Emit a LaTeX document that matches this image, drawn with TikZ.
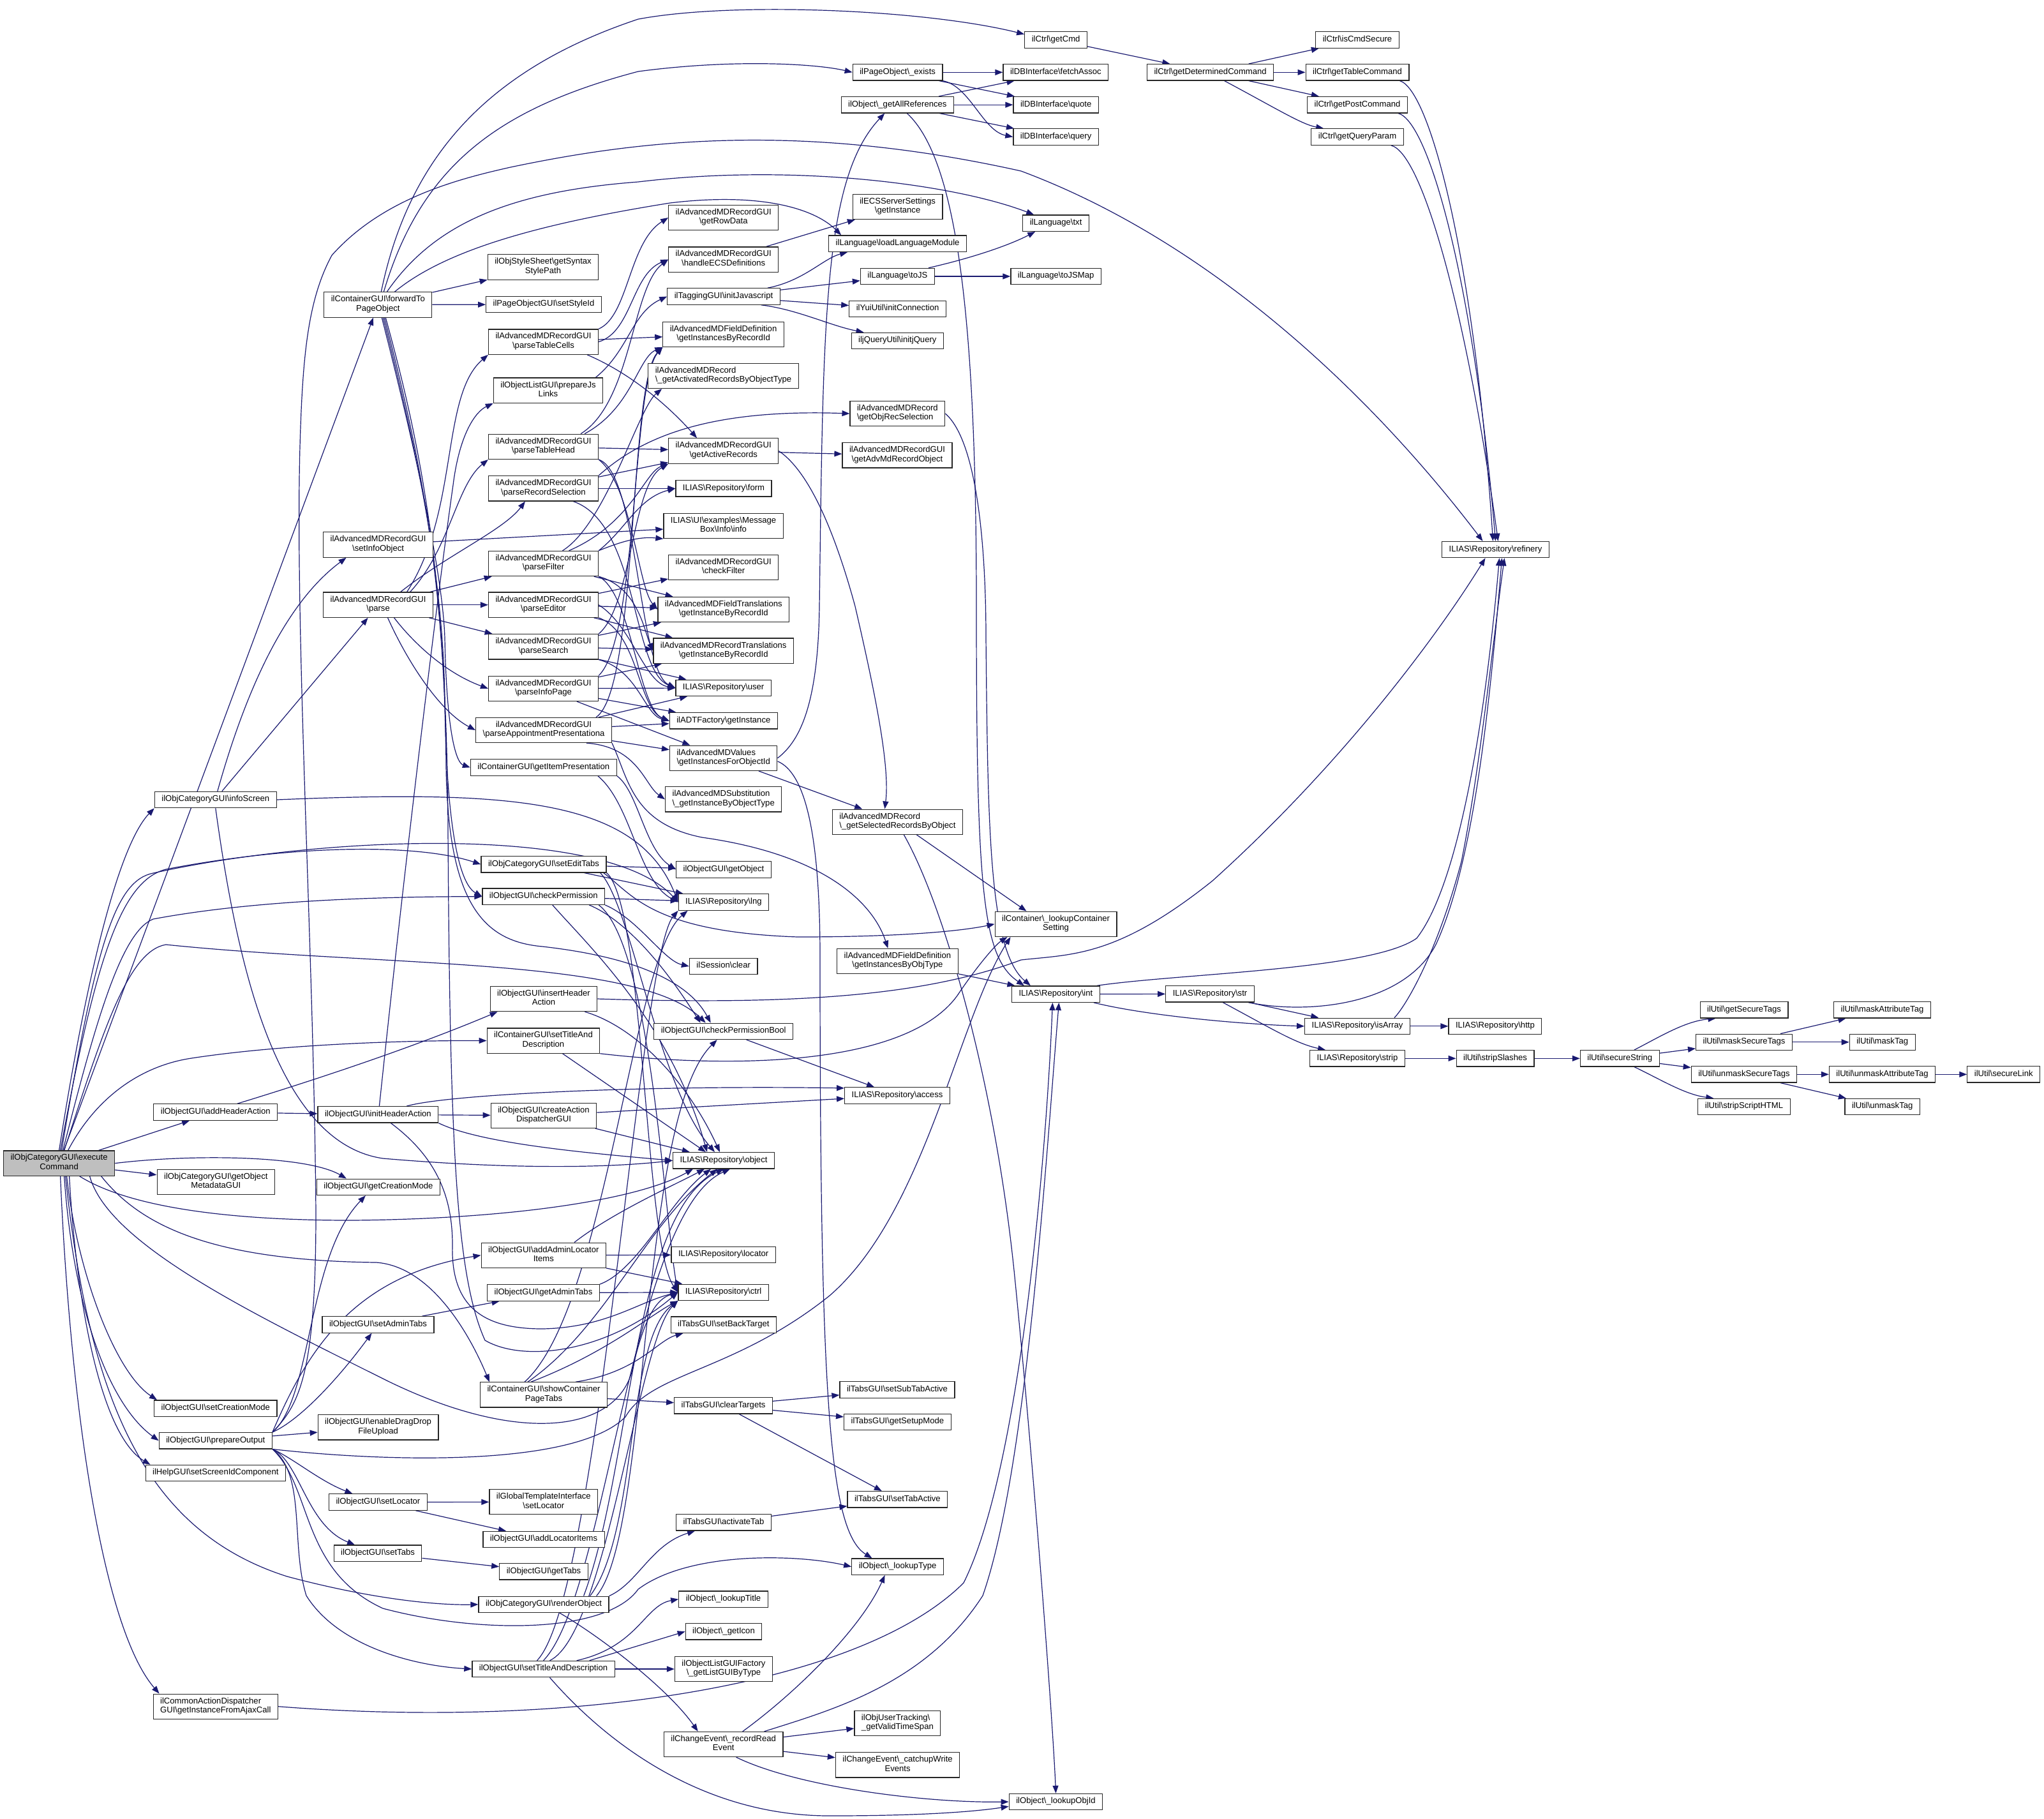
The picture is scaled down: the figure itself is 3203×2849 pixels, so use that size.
\documentclass[tikz,border=0pt]{standalone}
\usepackage{fontspec}
\setmainfont{Liberation Sans}
\usetikzlibrary{arrows.meta,calc}
\pgfdeclarelayer{bg}
\pgfsetlayers{bg,main}
\definecolor{edgec}{HTML}{191970}
\definecolor{exfill}{HTML}{BFBFBF}
\newcommand\BS{\textbackslash}
\tikzset{
 box/.style={draw=black!85, line width=1.2pt, fill=white, font=\fontsize{13.1}{14.5}\selectfont, inner xsep=11pt, inner ysep=5.45pt, align=center, execute at begin node=\strut, execute at end node=\strut},
 lbox/.style={box, align=left},
 e/.style={draw=edgec, line width=1.2pt, -{Triangle[length=12pt,width=9pt]}},
}
\begin{document}
\begin{tikzpicture}[x=1pt,y=1pt]
\useasboundingbox (0,0) rectangle (3203,-2849);
% column A/B
\node[box, fill=exfill] (ex) at (92.6,-1822.6) {ilObjCategoryGUI\BS{}execute\\Command};
\node[box] (iS) at (337.8,-1253) {ilObjCategoryGUI\BS{}infoScreen};
\node[box] (aHA) at (337.8,-1742.5) {ilObjectGUI\BS{}addHeaderAction};
\node[box] (gOM) at (338.3,-1851.7) {ilObjCategoryGUI\BS{}getObject\\MetadataGUI};
\node[box] (sCM) at (337.8,-2206.6) {ilObjectGUI\BS{}setCreationMode};
\node[box] (po) at (337.8,-2257.2) {ilObjectGUI\BS{}prepareOutput};
\node[box] (sSI) at (337.8,-2308) {ilHelpGUI\BS{}setScreenIdComponent};
\node[lbox] (gIA) at (337.8,-2673.7) {ilCommonActionDispatcher\\GUI\BS{}getInstanceFromAjaxCall};
% column C
\node[box] (fw) at (592.3,-477.5) {ilContainerGUI\BS{}forwardTo\\PageObject};
\node[box] (sIO) at (592.6,-853.5) {ilAdvancedMDRecordGUI\\\BS{}setInfoObject};
\node[box] (pa) at (592.6,-947.7) {ilAdvancedMDRecordGUI\\\BS{}parse};
\node[box] (iHA) at (592.4,-1746.3) {ilObjectGUI\BS{}initHeaderAction};
\node[box] (gCM) at (592.9,-1859.8) {ilObjectGUI\BS{}getCreationMode};
\node[box] (sAT) at (592.5,-2075.4) {ilObjectGUI\BS{}setAdminTabs};
\node[box] (eDD) at (592.6,-2236.3) {ilObjectGUI\BS{}enableDragDrop\\FileUpload};
\node[box] (sL) at (592.4,-2353.5) {ilObjectGUI\BS{}setLocator};
\node[box] (sT) at (592,-2433.7) {ilObjectGUI\BS{}setTabs};
% column D
\node[box] (gSS) at (851,-418.5) {ilObjStyleSheet\BS{}getSyntax\\StylePath};
\node[box] (sSt) at (852,-477) {ilPageObjectGUI\BS{}setStyleId};
\node[box] (pTC) at (851.5,-535.6) {ilAdvancedMDRecordGUI\\\BS{}parseTableCells};
\node[box] (pJL) at (859,-611.7) {ilObjectListGUI\BS{}prepareJs\\Links};
\node[box] (pTH) at (851.5,-699.8) {ilAdvancedMDRecordGUI\\\BS{}parseTableHead};
\node[box] (pRS) at (851.5,-765.3) {ilAdvancedMDRecordGUI\\\BS{}parseRecordSelection};
\node[box] (pF) at (851.5,-883) {ilAdvancedMDRecordGUI\\\BS{}parseFilter};
\node[box] (pE) at (851.5,-947.7) {ilAdvancedMDRecordGUI\\\BS{}parseEditor};
\node[box] (pS) at (851.5,-1013.3) {ilAdvancedMDRecordGUI\\\BS{}parseSearch};
\node[box] (pIP) at (851.5,-1078.8) {ilAdvancedMDRecordGUI\\\BS{}parseInfoPage};
\node[box] (pAP) at (852,-1144) {ilAdvancedMDRecordGUI\\\BS{}parseAppointmentPresentationa};
\node[box] (gIP) at (851.8,-1202.4) {ilContainerGUI\BS{}getItemPresentation};
\node[box] (sET) at (852,-1354.2) {ilObjCategoryGUI\BS{}setEditTabs};
\node[box] (cP) at (851.8,-1404.6) {ilObjectGUI\BS{}checkPermission};
\node[box] (iHAct) at (852,-1565) {ilObjectGUI\BS{}insertHeader\\Action};
\node[box] (ctST) at (851.5,-1630.5) {ilContainerGUI\BS{}setTitleAnd\\Description};
\node[box] (cAD) at (852,-1747.8) {ilObjectGUI\BS{}createAction\\DispatcherGUI};
\node[box] (aALI) at (851.8,-1966.7) {ilObjectGUI\BS{}addAdminLocator\\Items};
\node[box] (gAT) at (851.5,-2025.4) {ilObjectGUI\BS{}getAdminTabs};
\node[box] (sCPT) at (852,-2185.4) {ilContainerGUI\BS{}showContainer\\PageTabs};
\node[box] (gTL) at (851.8,-2353.2) {ilGlobalTemplateInterface\\\BS{}setLocator};
\node[box] (aLI) at (852,-2412) {ilObjectGUI\BS{}addLocatorItems};
\node[box] (gT) at (852,-2462.3) {ilObjectGUI\BS{}getTabs};
\node[box] (rO) at (852,-2513.8) {ilObjCategoryGUI\BS{}renderObject};
\node[box] (oST) at (851.5,-2615) {ilObjectGUI\BS{}setTitleAndDescription};
% column E
\node[box] (gRD) at (1133.7,-341) {ilAdvancedMDRecordGUI\\\BS{}getRowData};
\node[box] (hECS) at (1133.7,-406.6) {ilAdvancedMDRecordGUI\\\BS{}handleECSDefinitions};
\node[box] (iJS) at (1134,-464.5) {ilTaggingGUI\BS{}initJavascript};
\node[box] (fdGIR) at (1133.6,-523.8) {ilAdvancedMDFieldDefinition\\\BS{}getInstancesByRecordId};
\node[lbox] (gARBOT) at (1133.5,-589) {ilAdvancedMDRecord\\\BS\_getActivatedRecordsByObjectType};
\node[box] (gAR) at (1133.7,-706.5) {ilAdvancedMDRecordGUI\\\BS{}getActiveRecords};
\node[box] (form) at (1134,-765.3) {ILIAS\BS{}Repository\BS{}form};
\node[box] (info) at (1133.6,-824) {ILIAS\BS{}UI\BS{}examples\BS{}Message\\Box\BS{}Info\BS{}info};
\node[box] (cF) at (1133.7,-889) {ilAdvancedMDRecordGUI\\\BS{}checkFilter};
\node[box] (fT) at (1133.8,-955) {ilAdvancedMDFieldTranslations\\\BS{}getInstanceByRecordId};
\node[box] (rT) at (1133.7,-1019.7) {ilAdvancedMDRecordTranslations\\\BS{}getInstanceByRecordId};
\node[box] (user) at (1133.6,-1077.8) {ILIAS\BS{}Repository\BS{}user};
\node[box] (adt) at (1133.8,-1129.3) {ilADTFactory\BS{}getInstance};
\node[lbox] (mdv) at (1133.7,-1187.8) {ilAdvancedMDValues\\\BS{}getInstancesForObjectId};
\node[lbox] (sub) at (1133.7,-1252.4) {ilAdvancedMDSubstitution\\\BS\_getInstanceByObjectType};
\node[box] (gO) at (1134,-1362.4) {ilObjectGUI\BS{}getObject};
\node[box] (lng) at (1133.9,-1413.5) {ILIAS\BS{}Repository\BS{}lng};
\node[box] (sc) at (1133.7,-1514) {ilSession\BS{}clear};
\node[box] (cPB) at (1133.7,-1615.8) {ilObjectGUI\BS{}checkPermissionBool};
\node[box] (obj) at (1134,-1818.3) {ILIAS\BS{}Repository\BS{}object};
\node[box] (loc) at (1133.7,-1966) {ILIAS\BS{}Repository\BS{}locator};
\node[box] (ctrl) at (1133.6,-2024.8) {ILIAS\BS{}Repository\BS{}ctrl};
\node[box] (sBT) at (1133.8,-2075.7) {ilTabsGUI\BS{}setBackTarget};
\node[box] (cT) at (1133.6,-2202.3) {ilTabsGUI\BS{}clearTargets};
\node[box] (aT) at (1134,-2385.3) {ilTabsGUI\BS{}activateTab};
\node[box] (lTi) at (1133.5,-2505.6) {ilObject\BS\_lookupTitle};
\node[box] (gI) at (1134,-2556.2) {ilObject\BS\_getIcon};
\node[box] (lgf) at (1134,-2615) {ilObjectListGUIFactory\\\BS\_getListGUIByType};
\node[box] (rre) at (1133.7,-2733) {ilChangeEvent\BS\_recordRead\\Event};
% column F
\node[box] (pex) at (1406.6,-113.3) {ilPageObject\BS\_exists};
\node[box] (gAll) at (1406.3,-164.2) {ilObject\BS\_getAllReferences};
\node[box] (ecs) at (1406.6,-324) {ilECSServerSettings\\\BS{}getInstance};
\node[box] (llm) at (1406.6,-381.7) {ilLanguage\BS{}loadLanguageModule};
\node[box] (toJS) at (1406.4,-433) {ilLanguage\BS{}toJS};
\node[box] (yui) at (1406.6,-484) {ilYuiUtil\BS{}initConnection};
\node[box] (jq) at (1406.3,-534) {iljQueryUtil\BS{}initjQuery};
\node[lbox] (gORS) at (1406.4,-648) {ilAdvancedMDRecord\\\BS{}getObjRecSelection};
\node[box] (gAMRO) at (1406,-713.4) {ilAdvancedMDRecordGUI\\\BS{}getAdvMdRecordObject};
\node[lbox] (gSRBO) at (1406.4,-1287.7) {ilAdvancedMDRecord\\\BS\_getSelectedRecordsByObject};
\node[box] (gIBOT) at (1406.4,-1506) {ilAdvancedMDFieldDefinition\\\BS{}getInstancesByObjType};
\node[box] (acc) at (1406,-1716.5) {ILIAS\BS{}Repository\BS{}access};
\node[box] (sSTA) at (1406,-2177.5) {ilTabsGUI\BS{}setSubTabActive};
\node[box] (gSM) at (1406.4,-2227.8) {ilTabsGUI\BS{}getSetupMode};
\node[box] (sTA) at (1406.4,-2349.3) {ilTabsGUI\BS{}setTabActive};
\node[box] (lTy) at (1406.6,-2454.7) {ilObject\BS\_lookupType};
\node[lbox] (out) at (1406.4,-2699.8) {ilObjUserTracking\BS\\\_getValidTimeSpan};
\node[box] (cwe) at (1406.6,-2765.3) {ilChangeEvent\BS\_catchupWrite\\Events};
% column G
\node[box] (gCmd) at (1654.6,-62.4) {ilCtrl\BS{}getCmd};
\node[box] (fa) at (1654.4,-113.3) {ilDBInterface\BS{}fetchAssoc};
\node[box] (qu) at (1654.7,-164.2) {ilDBInterface\BS{}quote};
\node[box] (qy) at (1654.6,-214.5) {ilDBInterface\BS{}query};
\node[box] (txt) at (1654.6,-349.7) {ilLanguage\BS{}txt};
\node[box] (tjm) at (1654.6,-433) {ilLanguage\BS{}toJSMap};
\node[box] (lcs) at (1654.6,-1447.8) {ilContainer\BS\_lookupContainer\\Setting};
\node[box] (int) at (1654.4,-1557.6) {ILIAS\BS{}Repository\BS{}int};
\node[box] (loi) at (1654.5,-2823) {ilObject\BS\_lookupObjId};
% columns H..N
\node[box] (gDC) at (1896.6,-113.3) {ilCtrl\BS{}getDeterminedCommand};
\node[box] (str) at (1896,-1557.2) {ILIAS\BS{}Repository\BS{}str};
\node[box] (ics) at (2127,-62.4) {ilCtrl\BS{}isCmdSecure};
\node[box] (gTC) at (2127,-113.3) {ilCtrl\BS{}getTableCommand};
\node[box] (gPC) at (2127,-164.2) {ilCtrl\BS{}getPostCommand};
\node[box] (gQP) at (2127,-214.5) {ilCtrl\BS{}getQueryParam};
\node[box] (isA) at (2127,-1607.8) {ILIAS\BS{}Repository\BS{}isArray};
\node[box] (strip) at (2127,-1658.3) {ILIAS\BS{}Repository\BS{}strip};
\node[box] (ref) at (2343.5,-861.1) {ILIAS\BS{}Repository\BS{}refinery};
\node[box] (http) at (2342.9,-1607.8) {ILIAS\BS{}Repository\BS{}http};
\node[box] (sSl) at (2343,-1658.3) {ilUtil\BS{}stripSlashes};
\node[box] (sStr) at (2538.3,-1658.3) {ilUtil\BS{}secureString};
\node[box] (gST) at (2733,-1582.3) {ilUtil\BS{}getSecureTags};
\node[box] (mST) at (2733,-1632.8) {ilUtil\BS{}maskSecureTags};
\node[box] (uST) at (2733,-1683.3) {ilUtil\BS{}unmaskSecureTags};
\node[box] (sSH) at (2733,-1734) {ilUtil\BS{}stripScriptHTML};
\node[box] (mAT) at (2949.5,-1582.3) {ilUtil\BS{}maskAttributeTag};
\node[box] (mT) at (2949.7,-1632.8) {ilUtil\BS{}maskTag};
\node[box] (uAT) at (2949.5,-1683.3) {ilUtil\BS{}unmaskAttributeTag};
\node[box] (uT) at (2949.7,-1734) {ilUtil\BS{}unmaskTag};
\node[box] (sLk) at (3139.7,-1683.3) {ilUtil\BS{}secureLink};

\begin{pgfonlayer}{bg}
% executeCommand
\draw[e] (ex) -- (fw);
\draw[e] (ex.north) .. controls (140,-1500) and (190,-1320) .. (iS.south west);
\draw[e] ($(ex.north)+(2,0)$) .. controls (150,-1500) and (190,-1380) .. (260,-1362) .. controls (450,-1325) and (650,-1320) .. (sET.west);
\draw[e] ($(ex.north)+(4,0)$) .. controls (150,-1480) and (180,-1380) .. (240,-1368) .. controls (500,-1310) and (950,-1290) .. (lng.west);
\draw[e] ($(ex.north)+(6,0)$) .. controls (150,-1600) and (190,-1460) .. (240,-1440) .. controls (400,-1410) and (600,-1405) .. (cP.west);
\draw[e] ($(ex.north)+(8,0)$) .. controls (160,-1620) and (200,-1490) .. (260,-1480) .. controls (600,-1515) and (1000,-1500) .. ($(cPB.north)+(-28,0)$);
\draw[e] ($(ex.north)+(14,0)$) .. controls (150,-1720) and (220,-1670) .. (300,-1658) .. controls (450,-1635) and (650,-1630) .. (ctST.west);
\draw[e] (ex) -- (aHA);
\draw[e] (ex) -- (gOM);
\draw[e] (ex.east) .. controls (300,-1808) and (480,-1810) .. ($(gCM.north)+(-50,0)$);
\draw[e] ($(ex.south)+(32,0)$) .. controls (200,-1890) and (350,-1912) .. (550,-1912) .. controls (800,-1910) and (1000,-1880) .. ($(obj.south)+(-48,0)$);
\draw[e] ($(ex.south)+(48,0)$) .. controls (170,-1950) and (400,-2060) .. (600,-2160) .. controls (800,-2260) and (960,-2250) .. (990,-2150) .. controls (1010,-2060) and (1030,-2035) .. (ctrl.west);
\draw[e] ($(ex.south)+(66,0)$) .. controls (220,-1920) and (330,-1975) .. (590,-1978) .. controls (680,-1985) and (740,-2100) .. ($(sCPT.north west)+(15,0)$);
\draw[e] ($(ex.south)+(12,0)$) .. controls (120,-1990) and (180,-2150) .. ($(sCM.north west)+(5,0)$);
\draw[e] ($(ex.south)+(8,0)$) .. controls (115,-2050) and (170,-2200) .. (po.west);
\draw[e] ($(ex.south)+(16,0)$) .. controls (120,-2050) and (160,-2250) .. ($(sSI.north west)+(8,0)$);
\draw[e] ($(ex.south)+(2,0)$) .. controls (110,-2200) and (160,-2550) .. ($(gIA.north west)+(10,0)$);
\draw[e] ($(ex.south)+(10,0)$) .. controls (140,-2200) and (230,-2400) .. (450,-2470) .. controls (600,-2510) and (700,-2515) .. (rO.west);
% forwardTo
\draw[e] ($(fw.north)+(5,0)$) .. controls (640,-250) and (760,-110) .. (1000,-30) .. controls (1150,-2) and (1450,-15) .. (gCmd.170);
\draw[e] ($(fw.north)+(9,0)$) .. controls (660,-260) and (780,-170) .. (1000,-112) .. controls (1150,-92) and (1280,-100) .. (pex.west);
\draw[e] ($(fw.north)+(14,0)$) .. controls (680,-350) and (800,-300) .. (1000,-285) .. controls (1250,-255) and (1500,-290) .. ($(txt.north west)+(18,0)$);
\draw[e] ($(fw.north)+(26,0)$) .. controls (700,-390) and (850,-350) .. (1050,-318) .. controls (1200,-300) and (1280,-330) .. ($(llm.north west)+(20,0)$);
\draw[e] (fw) -- (gSS);
\draw[e] (fw) -- (sSt);
\draw[e] ($(fw.south)+(6,0)$) .. controls (650,-700) and (694,-900) .. (697,-1000) .. controls (700,-1150) and (715,-1195) .. (gIP.west);
\draw[e] ($(fw.south)+(8,0)$) .. controls (652,-700) and (695,-900) .. (697,-1100) .. controls (700,-1300) and (720,-1385) .. (cP.west);
\draw[e] ($(fw.south)+(10,0)$) .. controls (655,-700) and (697,-900) .. (699,-1200) .. controls (702,-1420) and (760,-1475) .. (850,-1483) .. controls (1000,-1500) and (1080,-1540) .. ($(cPB.north)+(-20,0)$);
\draw[e] ($(fw.south)+(12,0)$) .. controls (660,-700) and (700,-900) .. (702,-1300) .. controls (705,-1800) and (715,-2000) .. (760,-2100) .. controls (820,-2135) and (950,-2120) .. (ctrl.west);
% prepareOutput
\draw[e] (po.north east) .. controls (470,-2200) and (495,-2150) .. (495,-1900) .. controls (492,-1500) and (462,-1000) .. (470,-700) .. controls (474,-560) and (482,-470) .. (520,-400) .. controls (600,-310) and (720,-280) .. (800,-262) .. controls (1000,-220) and (1250,-190) .. (1600,-268) .. controls (1900,-380) and (2150,-620) .. ($(ref.north)+(-20,0)$);
\draw[e] (po.north east) .. controls (470,-2225) and (530,-2160) .. ($(sAT.south)+(-10,0)$);
\draw[e] (po) -- (eDD);
\draw[e] (po.south east) .. controls (460,-2285) and (500,-2320) .. ($(sL.north)+(-40,0)$);
\draw[e] (po.south east) .. controls (470,-2290) and (480,-2390) .. ($(sT.north)+(-36,0)$);
\draw[e] (po.south east) .. controls (480,-2310) and (455,-2420) .. (480,-2500) .. controls (530,-2580) and (650,-2610) .. (oST.west);
\draw[e] (po.north east) .. controls (480,-2120) and (550,-2000) .. (aALI.west);
\draw[e] (po.north east) .. controls (490,-2190) and (480,-1970) .. ($(gCM.south)+(-20,0)$);
\draw[e] (po.south east) .. controls (600,-2290) and (900,-2300) .. (980,-2220) .. controls (1020,-2150) and (1150,-2150) .. (1300,-2030) .. controls (1450,-1900) and (1500,-1600) .. ($(lcs.south west)+(25,0)$);
\draw[e] (po.south east) .. controls (490,-2330) and (470,-2460) .. (600,-2520) .. controls (750,-2560) and (950,-2560) .. (1000,-2490) .. controls (1080,-2430) and (1250,-2435) .. (lTy.west);
% infoScreen
\draw[e] ($(iS.north)+(3,0)$) .. controls (380,-1100) and (440,-950) .. ($(sIO.south)+(-50,0)$);
\draw[e] ($(iS.north)+(10,0)$) -- ($(pa.south)+(-16,0)$);
\draw[e] (iS.east) .. controls (800,-1238) and (1000,-1250) .. (lng.west);
\draw[e] (iS.south) .. controls (370,-1500) and (430,-1790) .. (600,-1815) .. controls (800,-1832) and (950,-1830) .. (obj.west);
% setInfoObject, parse
\draw[e] (sIO) -- (info);
\draw[e] ($(pa.north)+(45,0)$) .. controls (720,-800) and (690,-620) .. (pTC.south west);
\draw[e] ($(pa.north)+(50,0)$) .. controls (705,-860) and (715,-760) .. (pTH.south west);
\draw[e] ($(pa.north)+(35,0)$) .. controls (700,-870) and (790,-830) .. ($(pRS.south west)+(58,0)$);
\draw[e] (pa) -- (pF);
\draw[e] (pa) -- (pE);
\draw[e] (pa) -- (pS);
\draw[e] ($(pa.south)+(25,0)$) .. controls (650,-1010) and (700,-1055) .. (pIP.west);
\draw[e] ($(pa.south)+(15,0)$) .. controls (640,-1040) and (690,-1115) .. (pAP.west);
% initHeaderAction etc.
\draw[e] ($(iHA.north)+(2,0)$) .. controls (640,-1300) and (690,-900) .. (710,-760) .. controls (720,-680) and (745,-645) .. (pJL.south west);
\draw[e] (iHA) -- (cAD);
\draw[e] ($(iHA.north east)+(-50,0)$) .. controls (700,-1715) and (1000,-1700) .. (acc.172);
\draw[e] (iHA.south east) .. controls (750,-1790) and (900,-1805) .. (obj.west);
\draw[e] ($(iHA.south)+(20,0)$) .. controls (680,-1810) and (709,-1870) .. (709,-1950) .. controls (706,-2050) and (760,-2082) .. (850,-2082) .. controls (950,-2080) and (1000,-2040) .. (ctrl.west);
\draw[e] (cAD) -- (acc);
\draw[e] (cAD) -- (obj);
\draw[e] (sAT) -- (gAT);
\draw[e] (sL) -- (gTL);
\draw[e] (sL) -- (aLI);
\draw[e] (sT) -- (gT);
\draw[e] ($(aHA.north)+(34,0)$) .. controls (500,-1690) and (650,-1640) .. ($(iHAct.south west)+(12,0)$);
\draw[e] (aHA) -- (iHA);
\draw[e] (gIA.east) .. controls (900,-2710) and (1350,-2640) .. (1510,-2480) .. controls (1600,-2300) and (1640,-1800) .. ($(int.south)+(-5,0)$);
% column D
\draw[e] (pTC.north east) .. controls (985,-495) and (985,-380) .. (gRD.west);
\draw[e] (pTC.east) .. controls (990,-520) and (990,-430) .. (hECS.west);
\draw[e] (pTC) -- (fdGIR);
\draw[e] ($(pTC.south east)+(-18,0)$) .. controls (1000,-590) and (1060,-650) .. ($(gAR.north west)+(45,0)$);
\draw[e] ($(pJL.north east)+(-12,0)$) .. controls (985,-550) and (990,-490) .. (iJS.west);
\draw[e] ($(pTH.north east)+(-28,0)$) .. controls (990,-630) and (990,-450) .. (hECS.west);
\draw[e] ($(pTH.north east)+(-22,0)$) .. controls (990,-640) and (1000,-560) .. (fdGIR.south west);
\draw[e] (pTH) -- (gAR);
\draw[e] (pTH.south east) .. controls (1000,-740) and (1000,-1050) .. (user.west);
\draw[e] (pTH.south east) .. controls (990,-760) and (1000,-920) .. (fT.west);
\draw[e] (pRS.north east) .. controls (1000,-690) and (1100,-640) .. (gORS.west);
\draw[e] (pRS) -- (gAR);
\draw[e] (pRS) -- (form);
\draw[e] ($(pRS.south east)+(-40,0)$) .. controls (1000,-820) and (990,-1050) .. (user.west);
\draw[e] ($(pF.north)+(30,0)$) .. controls (950,-820) and (1000,-640) .. ($(gARBOT.south west)+(22,0)$);
\draw[e] ($(pF.north)+(40,0)$) .. controls (990,-820) and (1010,-740) .. (gAR.south west);
\draw[e] (pF.north east) .. controls (980,-830) and (1000,-780) .. (form.west);
\draw[e] (pF.north east) .. controls (970,-850) and (1000,-840) .. (info.south west);
\draw[e] (pF) -- (fT);
\draw[e] (pF.south east) .. controls (1000,-920) and (1010,-990) .. (rT.west);
\draw[e] (pF.south east) .. controls (990,-930) and (1000,-1110) .. (adt.west);
\draw[e] (pE) -- (cF);
\draw[e] (pE) -- (fT);
\draw[e] (pE) -- (rT);
\draw[e] (pE.east) .. controls (990,-980) and (1010,-1070) .. (user.west);
\draw[e] (pE.south east) .. controls (1000,-990) and (1000,-1110) .. (adt.west);
\draw[e] (pS) -- (fT);
\draw[e] (pS) -- (rT);
\draw[e] (pS) -- (user);
\draw[e] (pS.south east) .. controls (1000,-1050) and (1010,-1120) .. (adt.west);
\draw[e] (pS.north east) .. controls (990,-950) and (990,-760) .. (gAR.south west);
\draw[e] (pIP) -- (rT);
\draw[e] (pIP) -- (user);
\draw[e] (pIP) -- (adt);
\draw[e] (pIP) -- (mdv);
\draw[e] (pIP.north east) .. controls (1000,-1000) and (990,-600) .. (fdGIR.south west);
\draw[e] ($(pAP.north east)+(-25,0)$) .. controls (1000,-1080) and (985,-600) .. (fdGIR.south west);
\draw[e] (pAP) -- (user);
\draw[e] (pAP) -- (adt);
\draw[e] (pAP) -- (mdv);
\draw[e] ($(pAP.south east)+(-40,0)$) .. controls (1000,-1170) and (1010,-1230) .. (sub.west);
\draw[e] (pAP.south east) .. controls (985,-1220) and (990,-1290) .. (1100,-1312) .. controls (1300,-1340) and (1370,-1420) .. ($(gIBOT.north)+(-15,0)$);
\draw[e] (gIP.south east) .. controls (1000,-1240) and (1010,-1330) .. (gO.west);
\draw[e] ($(gIP.south east)+(-30,0)$) .. controls (990,-1260) and (1000,-1380) .. (lng.west);
\draw[e] (sET) -- (gO);
\draw[e] (sET) -- (lng);
\draw[e] (sET.south east) .. controls (1010,-1420) and (1010,-1950) .. (ctrl.west);
\draw[e] ($(sET.south east)+(-10,0)$) .. controls (990,-1420) and (1030,-1700) .. ($(obj.north)+(-14,0)$);
\draw[e] ($(sET.south east)+(-5,0)$) .. controls (990,-1400) and (1020,-1460) .. (1250,-1468) .. controls (1400,-1468) and (1500,-1460) .. (lcs.west);
\draw[e] (cP) -- (lng);
\draw[e] (cP.south east) .. controls (1000,-1440) and (1040,-1505) .. (sc.west);
\draw[e] ($(cP.south east)+(-25,0)$) .. controls (1000,-1450) and (1070,-1560) .. ($(cPB.north)+(-36,0)$);
\draw[e] ($(cP.south)+(14,0)$) .. controls (920,-1480) and (1050,-1600) .. ($(obj.north)+(-26,0)$);
\draw[e] ($(cP.south east)+(-10,0)$) .. controls (1020,-1480) and (1040,-1900) .. (ctrl.west);
\draw[e] (iHAct.east) .. controls (1250,-1575) and (1450,-1560) .. (1600,-1504) .. controls (1680,-1495) and (1750,-1500) .. (1900,-1380) .. controls (2100,-1200) and (2250,-1000) .. ($(ref.south)+(-16,0)$);
\draw[e] ($(iHAct.south east)+(-20,0)$) .. controls (1000,-1610) and (1080,-1700) .. ($(obj.north)+(-6,0)$);
\draw[e] (ctST.south east) .. controls (1150,-1675) and (1420,-1670) .. (1500,-1560) .. controls (1530,-1515) and (1560,-1480) .. ($(lcs.south west)+(20,0)$);
\draw[e] ($(ctST.south)+(30,0)$) -- ($(obj.north)+(-28,0)$);
\draw[e] (aALI) -- (loc);
\draw[e] (aALI) -- (ctrl);
\draw[e] ($(aALI.north east)+(-50,0)$) .. controls (960,-1900) and (1050,-1860) .. ($(obj.south)+(-30,0)$);
\draw[e] (gAT) -- (ctrl);
\draw[e] (gAT.north east) .. controls (1000,-1990) and (1050,-1880) .. ($(obj.south)+(-20,0)$);
\draw[e] (sCPT) -- (cT);
\draw[e] ($(sCPT.north east)+(-50,0)$) .. controls (1000,-2150) and (1030,-2100) .. ($(sBT.south west)+(20,0)$);
\draw[e] ($(sCPT.north)+(-20,0)$) .. controls (950,-2120) and (1020,-2060) .. (ctrl.south west);
\draw[e] ($(sCPT.north)+(-25,0)$) .. controls (950,-2080) and (1010,-1920) .. ($(obj.south)+(-10,0)$);
\draw[e] ($(sCPT.north)+(-30,0)$) .. controls (950,-2050) and (990,-1500) .. ($(lng.south west)+(15,0)$);
\draw[e] ($(rO.south)+(25,0)$) .. controls (950,-2570) and (1050,-2650) .. ($(rre.north)+(-40,0)$);
\draw[e] (rO.north east) .. controls (1000,-2480) and (1020,-2420) .. ($(aT.south west)+(30,0)$);
\draw[e] ($(rO.north east)+(-20,0)$) .. controls (1020,-2400) and (1000,-1750) .. ($(cPB.south)+(-10,0)$);
\draw[e] ($(rO.north east)+(-30,0)$) .. controls (1000,-2400) and (980,-2100) .. (ctrl.south west);
\draw[e] ($(rO.north east)+(-40,0)$) .. controls (990,-2300) and (990,-1900) .. (obj.south);
\draw[e] ($(oST.north east)+(-60,0)$) .. controls (1000,-2580) and (1010,-2515) .. (lTi.west);
\draw[e] ($(oST.north east)+(-40,0)$) -- (gI.west);
\draw[e] (oST) -- (lgf);
\draw[e] ($(oST.south)+(10,0)$) .. controls (950,-2730) and (1100,-2845) .. (1300,-2845) .. controls (1450,-2845) and (1530,-2838) .. ($(loi.south west)+(0,6)$);
\draw[e] ($(oST.north)+(10,0)$) .. controls (950,-2560) and (1000,-2100) .. (ctrl.south west);
\draw[e] (oST.north) .. controls (950,-2500) and (990,-1900) .. ($(obj.south)+(10,0)$);
\draw[e] ($(oST.north)+(-10,0)$) .. controls (940,-2500) and (1000,-1500) .. (lng.south west);
% column E
\draw[e] (hECS) -- (ecs);
\draw[e] ($(iJS.north east)+(-20,0)$) .. controls (1260,-440) and (1290,-405) .. ($(llm.south west)+(30,0)$);
\draw[e] (iJS) -- (toJS);
\draw[e] (iJS) -- (yui);
\draw[e] ($(iJS.south east)+(-30,0)$) .. controls (1250,-485) and (1300,-510) .. ($(jq.north west)+(20,0)$);
\draw[e] (gAR) -- (gAMRO);
\draw[e] (gAR.east) .. controls (1270,-740) and (1310,-840) .. (1340,-950) .. controls (1370,-1080) and (1395,-1200) .. ($(gSRBO.north)+(-20,0)$);
\draw[e] (mdv.east) .. controls (1255,-1160) and (1282,-1100) .. (1284,-950) .. controls (1290,-500) and (1290,-280) .. ($(gAll.south)+(-20,0)$);
\draw[e] (mdv) -- (gSRBO);
\draw[e] ($(mdv.east)+(0,-5)$) .. controls (1260,-1210) and (1285,-1300) .. (1285,-1500) .. controls (1285,-2200) and (1300,-2400) .. ($(lTy.north)+(-40,0)$);
\draw[e] ($(gSRBO.south)+(30,0)$) -- ($(lcs.north west)+(50,0)$);
\draw[e] ($(gSRBO.south)+(10,0)$) .. controls (1480,-1420) and (1560,-1700) .. (1590,-2000) .. controls (1620,-2300) and (1650,-2700) .. (loi.north);
\draw[e] (gORS.east) .. controls (1530,-690) and (1545,-850) .. (1545,-1000) .. controls (1548,-1300) and (1550,-1490) .. ($(int.north west)+(30,0)$);
\draw[e] ($(gAll.south)+(15,0)$) .. controls (1500,-250) and (1530,-500) .. (1530,-950) .. controls (1530,-1400) and (1540,-1500) .. ($(int.north west)+(20,0)$);
\draw[e] (gAll) -- (fa);
\draw[e] (gAll) -- (qu);
\draw[e] (gAll) -- (qy);
\draw[e] (pex) -- (fa);
\draw[e] (pex) -- (qu);
\draw[e] (pex.south east) .. controls (1520,-135) and (1540,-205) .. (qy.west);
\draw[e] (gIBOT) -- (int);
\draw[e] (cPB) -- (acc);
\draw[e] (cT) -- (sSTA);
\draw[e] (cT) -- (gSM);
\draw[e] (cT) -- (sTA);
\draw[e] (aT) -- (sTA);
\draw[e] ($(rre.north)+(30,0)$) .. controls (1250,-2650) and (1350,-2550) .. ($(lTy.south)+(-20,0)$);
\draw[e] ($(rre.north east)+(-30,0)$) .. controls (1300,-2680) and (1450,-2640) .. (1540,-2500) .. controls (1610,-2300) and (1640,-1800) .. ($(int.south)+(5,0)$);
\draw[e] (rre) -- (out);
\draw[e] (rre) -- (cwe);
\draw[e] ($(rre.south)+(20,0)$) .. controls (1250,-2800) and (1450,-2825) .. (loi.west);
% right part
\draw[e] (gCmd) -- (gDC);
\draw[e] (gDC) -- (ics);
\draw[e] (gDC) -- (gTC);
\draw[e] (gDC) -- (gPC);
\draw[e] ($(gDC.south)+(22,0)$) .. controls (2000,-170) and (2040,-195) .. ($(gQP.north west)+(20,0)$);
\draw[e] ($(gTC.south east)+(-15,0)$) .. controls (2240,-140) and (2310,-400) .. ($(ref.north)+(-4,0)$);
\draw[e] ($(gPC.south east)+(-15,0)$) .. controls (2240,-190) and (2310,-450) .. (ref.north);
\draw[e] ($(gQP.south east)+(-20,0)$) .. controls (2230,-240) and (2300,-500) .. ($(ref.north)+(4,0)$);
\draw[e] ($(toJS.north east)+(-10,0)$) .. controls (1520,-405) and (1580,-385) .. ($(txt.south west)+(20,0)$);
\draw[e] (toJS) -- (tjm);
\draw[e] ($(int.north east)+(-5,0)$) .. controls (1850,-1525) and (2150,-1520) .. (2220,-1470) .. controls (2290,-1380) and (2330,-1100) .. ($(ref.south)+(6,0)$);
\draw[e] (int) -- (str);
\draw[e] ($(int.south east)+(-10,0)$) .. controls (1800,-1592) and (1950,-1605) .. (isA.west);
\draw[e] (str) -- (isA);
\draw[e] ($(str.south)+(20,0)$) .. controls (1990,-1610) and (2030,-1635) .. ($(strip.north west)+(25,0)$);
\draw[e] ($(str.south east)+(-10,0)$) .. controls (2050,-1590) and (2200,-1575) .. (2250,-1480) .. controls (2310,-1350) and (2335,-1100) .. ($(ref.south)+(10,0)$);
\draw[e] ($(isA.north east)+(-25,0)$) .. controls (2200,-1580) and (2250,-1500) .. (2290,-1350) .. controls (2320,-1200) and (2340,-1000) .. ($(ref.south)+(14,0)$);
\draw[e] (isA) -- (http);
\draw[e] (strip) -- (sSl);
\draw[e] (sSl) -- (sStr);
\draw[e] ($(sStr.north east)+(-40,0)$) .. controls (2600,-1625) and (2640,-1600) .. ($(gST.south west)+(25,0)$);
\draw[e] (sStr) -- (mST);
\draw[e] (sStr) -- (uST);
\draw[e] ($(sStr.south east)+(-40,0)$) .. controls (2600,-1690) and (2640,-1715) .. ($(sSH.north west)+(25,0)$);
\draw[e] (mST) -- (mAT);
\draw[e] (mST) -- (mT);
\draw[e] (uST) -- (uAT);
\draw[e] (uST) -- (uT);
\draw[e] (uAT) -- (sLk);
\end{pgfonlayer}
\end{tikzpicture}
\end{document}
